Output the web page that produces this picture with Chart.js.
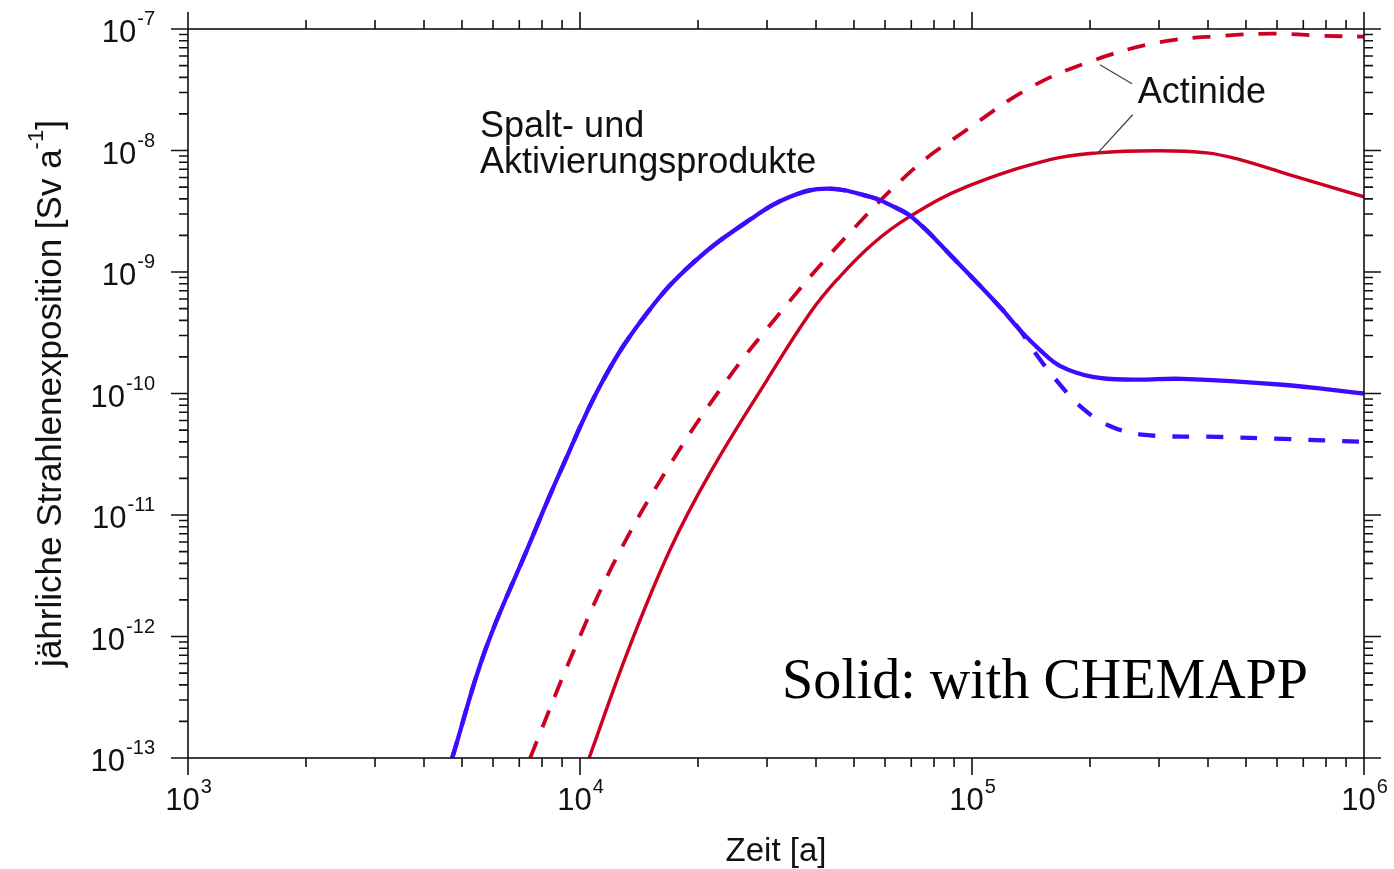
<!DOCTYPE html>
<html>
<head>
<meta charset="utf-8">
<script src="https://cdn.jsdelivr.net/npm/chart.js@4.4.0/dist/chart.umd.min.js"></script>
<style>
  html, body { margin: 0; padding: 0; background: #fff; }
  #wrap { width: 1394px; height: 869px; position: relative; }
</style>
</head>
<body>
<div id="wrap"><canvas id="doseChart"></canvas></div>
<script>
// Spalt- und Aktivierungsprodukte, with CHEMAPP (solid)
var spaltZeit = [4720, 5730, 7330, 8900, 11460, 14830, 19420, 27160, 34340, 42660,
  54950, 61760, 70630, 90450, 117800, 132400, 148950, 167500, 203300, 257200, 345000, 620500, 1e6];
var spaltMit = [1e-13, 7.7e-13, 5.2e-12, 2.26e-11, 1.29e-10, 4.6e-10, 1.19e-9, 2.7e-9, 4.16e-9, 4.85e-9,
  4.16e-9, 3.57e-9, 2.79e-9, 1.26e-9, 5.16e-10, 3.34e-10, 2.29e-10, 1.69e-10, 1.37e-10, 1.30e-10, 1.32e-10, 1.18e-10, 1.0e-10];

// Spalt- und Aktivierungsprodukte, without CHEMAPP (dashed)
var spaltZeitOhne = [4720, 5730, 7330, 8900, 11460, 14830, 19420, 27160, 34340, 42660,
  54950, 61760, 70630, 90450, 117800, 132400, 145500, 164600, 189600, 224700, 276000, 421000, 620500, 1e6];
var spaltOhne = [1e-13, 7.7e-13, 5.2e-12, 2.26e-11, 1.29e-10, 4.6e-10, 1.19e-9, 2.7e-9, 4.16e-9, 4.85e-9,
  4.16e-9, 3.57e-9, 2.79e-9, 1.26e-9, 5.16e-10, 3.34e-10, 2.12e-10, 1.27e-10, 7.76e-11, 5.41e-11, 4.57e-11, 4.4e-11, 4.23e-11, 4.0e-11];

// Actinide, with CHEMAPP (solid)
var actinZeit = [10550, 13270, 16980, 21470, 29990, 38630, 45190, 55850, 69500, 97000,
  158100, 209400, 296000, 397300, 482000, 646900, 1e6];
var actinMit = [1e-13, 7.7e-13, 5.2e-12, 2.22e-11, 1.29e-10, 4.6e-10, 8.6e-10, 1.71e-9, 2.87e-9, 5.04e-9,
  8.4e-9, 9.57e-9, 9.95e-9, 9.57e-9, 8.4e-9, 6.3e-9, 4.16e-9];

// Actinide, without CHEMAPP (dashed)
var actinZeitOhne = [7460, 9585, 12340, 16900, 23710, 32370, 45190, 70630, 97000,
  140600, 200000, 296000, 436500, 584800, 785000, 1e6];
var actinOhne = [1e-13, 7.3e-13, 4.33e-12, 2.54e-11, 1.29e-10, 4.6e-10, 1.61e-9, 6.95e-9, 1.48e-8,
  3.29e-8, 5.38e-8, 7.7e-8, 8.8e-8, 9.15e-8, 8.8e-8, 8.65e-8];

// axis decades (exponents of 10)
var xTickExp = [3, 4, 5, 6];
var yTickExp = [-7, -8, -9, -10, -11, -12, -13];

var BLUE = '#3d0cff';
var RED = '#cc0022';
var SANS = '"Liberation Sans", Arial, sans-serif';

function pts(xs, ys) {
  return xs.map(function (x, i) { return { x: x, y: ys[i] }; });
}

// "10" with a raised exponent; align 'center' or 'right'
function powLabel(ctx, exp, x, base, align) {
  ctx.font = '31px ' + SANS;
  var wb = ctx.measureText('10').width;
  ctx.font = '20px ' + SANS;
  var ws = ctx.measureText(String(exp)).width;
  var x0 = align === 'center' ? x - (wb + ws) / 2 : x - (wb + ws);
  ctx.font = '31px ' + SANS;
  ctx.fillText('10', x0, base);
  ctx.font = '20px ' + SANS;
  ctx.fillText(String(exp), x0 + wb + 1, base - 17);
}

var frame = {
  id: 'frame',
  afterDatasetsDraw: function (chart) {
    var ctx = chart.ctx, a = chart.chartArea;
    var xs = chart.scales.x, ys = chart.scales.y;
    ctx.save();
    ctx.strokeStyle = '#111';
    ctx.lineWidth = 1.6;
    ctx.strokeRect(a.left, a.top, a.right - a.left, a.bottom - a.top);

    // major ticks at each decade, minor ticks at 2..9, on all four sides
    ctx.beginPath();
    xTickExp.forEach(function (e, i) {
      var last = i === xTickExp.length - 1;
      for (var m = 1; m <= (last ? 1 : 9); m++) {
        var px = xs.getPixelForValue(m * Math.pow(10, e));
        var len = m === 1 ? 17 : 9;
        ctx.moveTo(px, a.bottom); ctx.lineTo(px, a.bottom + len);
        ctx.moveTo(px, a.top); ctx.lineTo(px, a.top - len);
      }
    });
    yTickExp.forEach(function (e, i) {
      var last = i === yTickExp.length - 1;
      for (var m = 1; m <= (last ? 1 : 9); m++) {
        var v = m === 1 ? Math.pow(10, e) : m * Math.pow(10, e - 1);
        var py = ys.getPixelForValue(v);
        var len = m === 1 ? 17 : 9;
        ctx.moveTo(a.left, py); ctx.lineTo(a.left - len, py);
        ctx.moveTo(a.right, py); ctx.lineTo(a.right + len, py);
      }
    });
    ctx.stroke();

    // tick labels
    ctx.fillStyle = '#111';
    ctx.textBaseline = 'alphabetic';
    ctx.textAlign = 'left';
    xTickExp.forEach(function (e) {
      powLabel(ctx, e, xs.getPixelForValue(Math.pow(10, e)), a.bottom + 52, 'center');
    });
    yTickExp.forEach(function (e) {
      powLabel(ctx, e, a.left - 34, ys.getPixelForValue(Math.pow(10, e)) + 13, 'right');
    });

    // axis titles
    ctx.textAlign = 'center';
    ctx.font = '33px ' + SANS;
    ctx.fillText('Zeit [a]', (a.left + a.right) / 2, a.bottom + 103);

    ctx.save();
    ctx.translate(a.left - 127, (a.top + a.bottom) / 2);
    ctx.rotate(-Math.PI / 2);
    ctx.textAlign = 'left';
    var main = 'jährliche Strahlenexposition [Sv a';
    ctx.font = '35px ' + SANS;
    var w1 = ctx.measureText(main).width;
    var w3 = ctx.measureText(']').width;
    ctx.font = '22px ' + SANS;
    var w2 = ctx.measureText('-1').width;
    var sx = -(w1 + w2 + w3) / 2;
    ctx.font = '35px ' + SANS;
    ctx.fillText(main, sx, 0);
    ctx.font = '22px ' + SANS;
    ctx.fillText('-1', sx + w1, -18);
    ctx.font = '35px ' + SANS;
    ctx.fillText(']', sx + w1 + w2, 0);
    ctx.restore();

    // series labels and leader lines
    function P(x, y) { return [xs.getPixelForValue(x), ys.getPixelForValue(y)]; }
    ctx.strokeStyle = '#444';
    ctx.lineWidth = 1.3;
    ctx.beginPath();
    var p = P(212000, 5.08e-8), q = P(256000, 3.54e-8);
    ctx.moveTo(p[0], p[1]); ctx.lineTo(q[0], q[1]);
    p = P(209400, 9.57e-9); q = P(257000, 1.97e-8);
    ctx.moveTo(p[0], p[1]); ctx.lineTo(q[0], q[1]);
    ctx.stroke();

    ctx.textAlign = 'left';
    ctx.font = '36px ' + SANS;
    p = P(264900, 2.47e-8);
    ctx.fillText('Actinide', p[0], p[1]);
    p = P(5560, 1.30e-8);
    ctx.fillText('Spalt- und', p[0], p[1]);
    p = P(5560, 6.56e-9);
    ctx.fillText('Aktivierungsprodukte', p[0], p[1]);

    ctx.fillStyle = '#000';
    ctx.font = '56px "Liberation Serif", "Times New Roman", serif';
    p = P(32760, 3.12e-13);
    ctx.fillText('Solid: with CHEMAPP', p[0], p[1]);
    ctx.restore();
  }
};

new Chart(document.getElementById('doseChart'), {
  type: 'line',
  data: {
    datasets: [
      { data: pts(spaltZeit, spaltMit), borderColor: BLUE, borderWidth: 4.3 },
      { data: pts(spaltZeitOhne, spaltOhne), borderColor: BLUE, borderWidth: 4.3, borderDash: [17, 17] },
      { data: pts(actinZeit, actinMit), borderColor: RED, borderWidth: 3.4 },
      { data: pts(actinZeitOhne, actinOhne), borderColor: RED, borderWidth: 3.8, borderDash: [18, 15] }
    ]
  },
  options: {
    responsive: true,
    maintainAspectRatio: false,
    animation: false,
    layout: { padding: { left: 188, right: 30, top: 29, bottom: 111 } },
    datasets: { line: { tension: 0.4, fill: false, pointRadius: 0 } },
    plugins: { legend: { display: false }, tooltip: { enabled: false } },
    scales: {
      x: { type: 'logarithmic', min: 1e3, max: 1e6, display: false },
      y: { type: 'logarithmic', min: 1e-13, max: 1e-7, display: false }
    }
  },
  plugins: [frame]
});
</script>
</body>
</html>
